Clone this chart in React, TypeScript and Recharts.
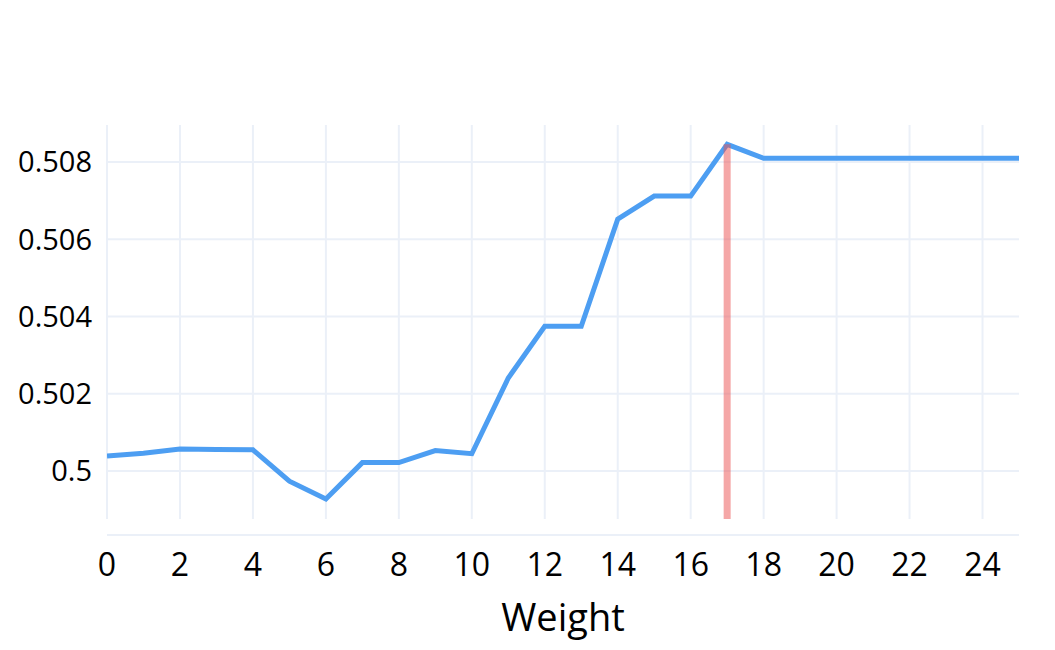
import { LineChart, Line, XAxis, YAxis, CartesianGrid, ReferenceLine, Label } from 'recharts';

// weight step vs score
const weights = [0, 1, 2, 3, 4, 5, 6, 7, 8, 9, 10, 11, 12, 13, 14, 15, 16, 17, 18, 19, 20, 21, 22, 23, 24, 25];
const scores = [
  0.50039, 0.50046, 0.50057, 0.50056, 0.50055, 0.49974, 0.49928, 0.50022, 0.50022, 0.50053,
  0.50045, 0.50241, 0.50375, 0.50375, 0.50652, 0.50712, 0.50712, 0.50846, 0.5081, 0.5081,
  0.5081, 0.5081, 0.5081, 0.5081, 0.5081, 0.5081,
];
const xTicks = [0, 2, 4, 6, 8, 10, 12, 14, 16, 18, 20, 22, 24];
const yTicks = [0.5, 0.502, 0.504, 0.506, 0.508];
const xDomain: [number, number] = [0, 25];
const yDomain: [number, number] = [0.49876, 0.50896];

// best weight marker
const bestWeight = 17;
const bestScore = 0.50846;

const data = weights.map((w, i) => ({ weight: w, score: scores[i] }));

const GRID = '#ebf0f8';
const FONT = '"Open Sans", sans-serif';

export default function App() {
  return (
    <div style={{ width: 1040, height: 640, fontFamily: FONT }}>
      <LineChart width={1040} height={640} data={data} margin={{ top: 117, right: 29, bottom: 13, left: 0 }}>
        <CartesianGrid xAxisId="labels" stroke={GRID} strokeWidth={2} syncWithTicks />
        <XAxis
          xAxisId={0}
          dataKey="weight"
          type="number"
          domain={xDomain}
          ticks={xTicks}
          allowDataOverflow
          height={16}
          axisLine={false}
          tickLine={false}
          tick={false}
        />
        <XAxis
          xAxisId="labels"
          dataKey="weight"
          type="number"
          domain={xDomain}
          ticks={xTicks}
          height={100}
          axisLine={{ stroke: GRID, strokeWidth: 2 }}
          tickLine={false}
          tickSize={0}
          tickMargin={18}
          tick={{ fill: '#000', fontSize: 32, fontFamily: FONT }}
        >
          <Label value="Weight" position="insideBottom" offset={4} fill="#000" fontSize={38} fontFamily={FONT} />
        </XAxis>
        <YAxis
          type="number"
          domain={yDomain}
          ticks={yTicks}
          allowDataOverflow
          width={99}
          axisLine={false}
          tickLine={false}
          tickSize={0}
          tickMargin={15}
          tick={{ fill: '#000', fontSize: 29, fontFamily: FONT }}
        />
        <Line
          type="linear"
          dataKey="score"
          stroke="#4d9ef2"
          strokeWidth={5}
          dot={false}
          activeDot={false}
          isAnimationActive={false}
        />
        <ReferenceLine
          segment={[
            { x: bestWeight, y: yDomain[0] },
            { x: bestWeight, y: bestScore },
          ]}
          stroke="rgb(236,80,80)"
          strokeOpacity={0.5}
          strokeWidth={7}
        />
      </LineChart>
    </div>
  );
}
